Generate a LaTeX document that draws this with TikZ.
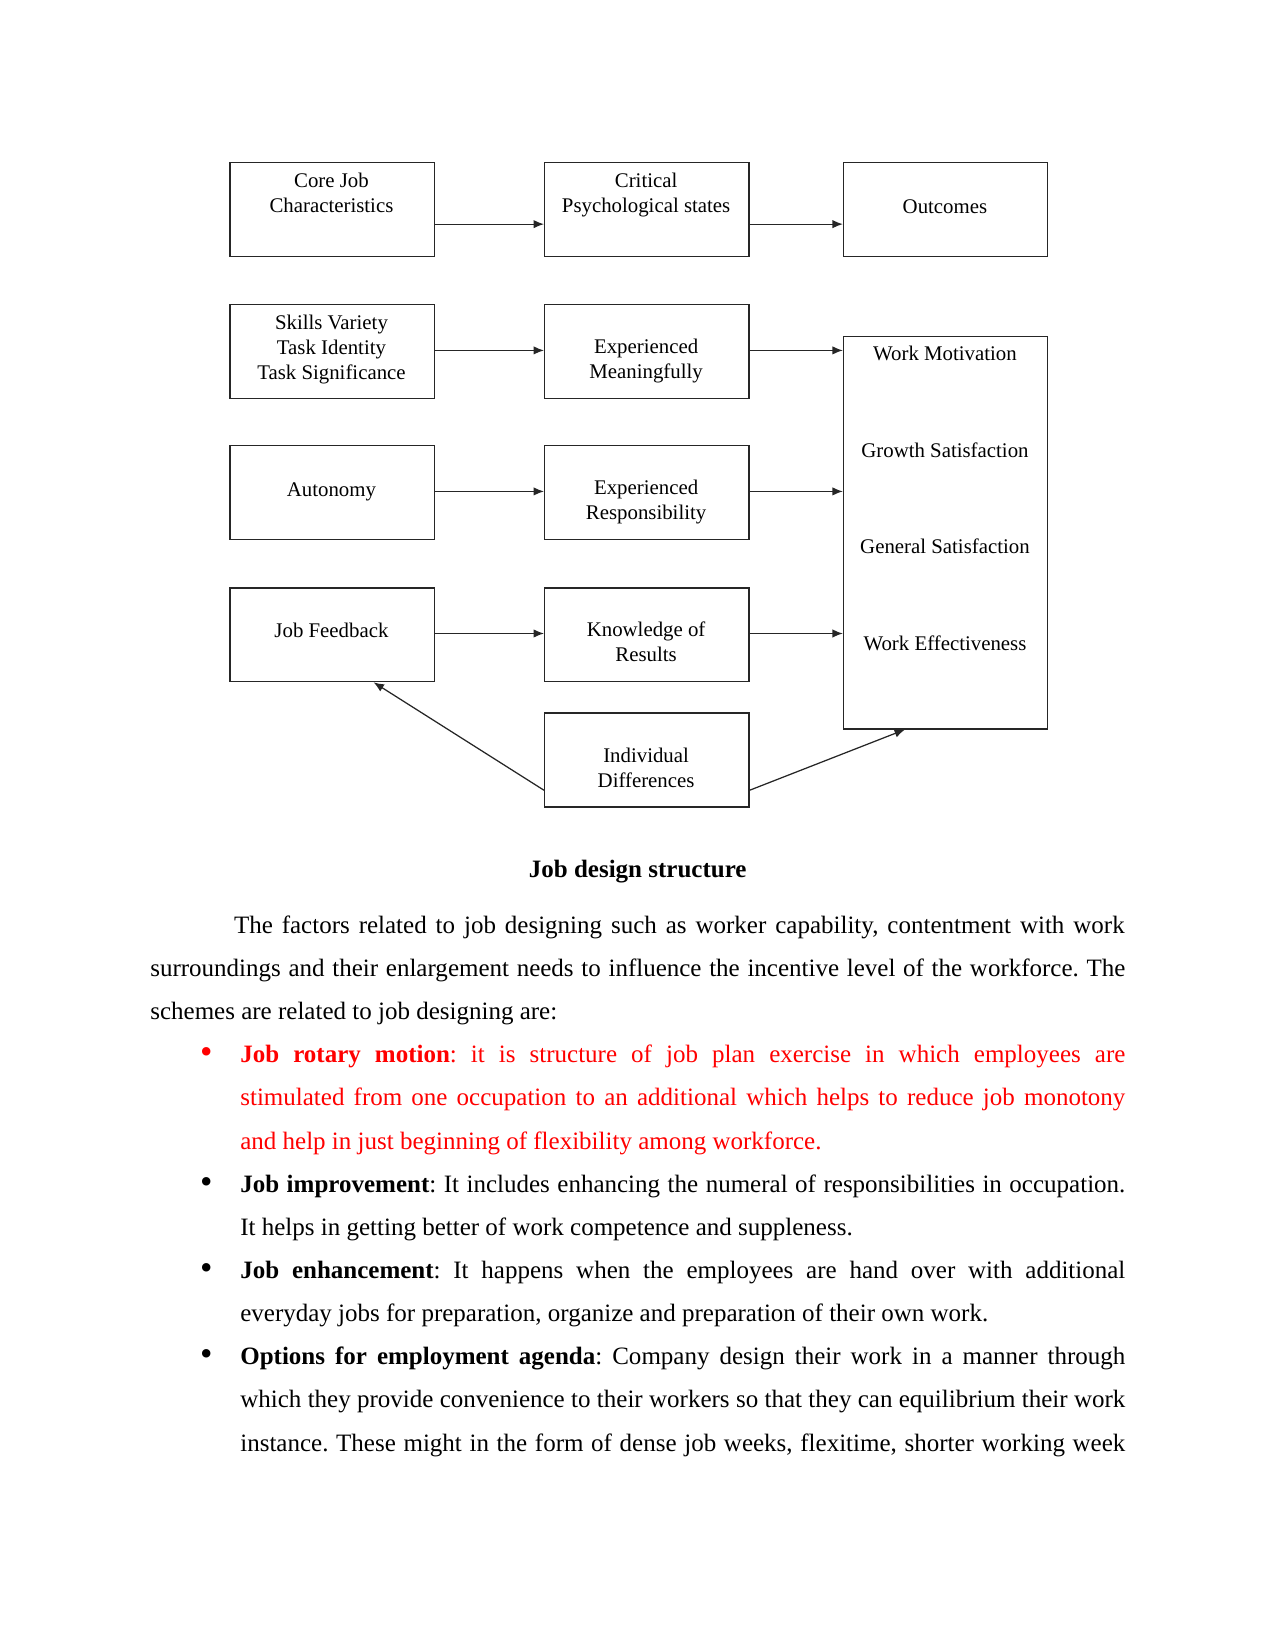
\documentclass[tikz,border=0pt]{standalone}
\usepackage{fontspec}
\setmainfont{Liberation Serif}
\usetikzlibrary{arrows.meta}
\frenchspacing
\begin{document}
\frenchspacing
\begin{tikzpicture}[x=0.5051pt,y=-0.5051pt,
  box/.style={draw=black!85, line width=0.65pt, minimum width=98pt, minimum height=45pt, inner sep=0, anchor=north west},
  lbl/.style={font=\fontsize{10}{12.1}\selectfont, align=center, inner sep=0},
  arr/.style={line width=0.6pt, draw=black!85, -{Latex[length=5pt,width=4pt]}},
  body/.style={font=\fontsize{12}{14}\selectfont\frenchspacing, inner sep=0, anchor=base west},
  bul/.style={font=\fontsize{12}{14}\selectfont, inner sep=0, anchor=base},
  dot/.style={font=\fontsize{17}{18}\selectfont, inner sep=0, anchor=base},
]
\useasboundingbox (0,0) rectangle (1212,1568);
% boxes
\node[box] (core) at (218,154) {};
\node[box] (crit) at (517,154) {};
\node[box] (out) at (801,154) {};
\node[box] (skills) at (218,289) {};
\node[box] (em) at (517,289) {};
\node[box, minimum height=188.4pt] (big) at (801,319) {};
\node[box] (auto) at (218,423) {};
\node[box] (er) at (517,423) {};
\node[box] (jf) at (218,558) {};
\node[box] (kr) at (517,558) {};
\node[box] (id) at (517,677) {};
% labels
\node[lbl] (tcore) at (315,183) {Core Job\\Characteristics};
\node[lbl] (tcrit) at (614,185.5) {Critical\\Psychological states};
\node[lbl] (tout) at (898,196) {Outcomes};
\node[lbl] (tskills) at (315,332) {Skills Variety\\Task Identity\\Task Significance};
\node[lbl] (tem) at (614,343) {Experienced\\Meaningfully};
\node[lbl] (twm) at (898,336) {Work Motivation};
\node[lbl] (tgs) at (898,427.5) {Growth Satisfaction};
\node[lbl] (tgen) at (898,519.5) {General Satisfaction};
\node[lbl] (twe) at (898,611.5) {Work Effectiveness};
\node[lbl] (tauto) at (315,467.5) {Autonomy};
\node[lbl] (ter) at (614,477) {Experienced\\Responsibility};
\node[lbl] (tjf) at (315,599.5) {Job Feedback};
\node[lbl] (tkr) at (614,610) {Knowledge of\\Results};
\node[lbl] (tid) at (614,729.5) {Individual\\Differences};
% connector levels
\coordinate (r1) at (0,213);
\coordinate (r2) at (0,333);
\coordinate (r3) at (0,467);
\coordinate (r4) at (0,602);
\coordinate (r5) at (0,751);
\coordinate (c1) at (355,0);
\coordinate (c2) at (860,0);
\draw[arr] (core.east |- r1) -- (crit.west |- r1);
\draw[arr] (crit.east |- r1) -- (out.west |- r1);
\draw[arr] (skills.east |- r2) -- (em.west |- r2);
\draw[arr] (em.east |- r2) -- (big.west |- r2);
\draw[arr] (auto.east |- r3) -- (er.west |- r3);
\draw[arr] (er.east |- r3) -- (big.west |- r3);
\draw[arr] (jf.east |- r4) -- (kr.west |- r4);
\draw[arr] (kr.east |- r4) -- (big.west |- r4);
\draw[arr] (id.west |- r5) -- (jf.south -| c1);
\draw[arr] (id.east |- r5) -- (big.south -| c2);
% caption
\node[bul, font=\fontsize{12}{14}\selectfont\bfseries] (title) at (606,834) {Job design structure};
% body paragraph
\node[body] (p1) at (222,887) {\makebox[427.5pt][s]{The factors related to job designing such as worker capability, contentment with work}};
\node[body] (p2) at (142.5,928) {\makebox[468pt][s]{surroundings and their enlargement needs to influence the incentive level of the workforce. The}};
\node[body] (p3) at (142.5,969) {schemes are related to job designing are:};
% bullet 1 (red)
\node[dot, text=red] (b1) at (196,1011) {\textbullet};
\node[body, text=red] (l11) at (228,1010) {\makebox[424.8pt][s]{\textbf{Job rotary motion}: it is structure of job plan exercise in which employees are}};
\node[body, text=red] (l12) at (228,1051) {\makebox[424.8pt][s]{stimulated from one occupation to an additional which helps to reduce job monotony}};
\node[body, text=red] (l13) at (228,1092) {and help in just beginning of flexibility among workforce.};
% bullet 2
\node[dot] (b2) at (196,1134) {\textbullet};
\node[body] (l21) at (228,1133) {\makebox[424.8pt][s]{\textbf{Job improvement}: It includes enhancing the numeral of responsibilities in occupation.}};
\node[body] (l22) at (228,1174) {It helps in getting better of work competence and suppleness.};
% bullet 3
\node[dot] (b3) at (196,1216) {\textbullet};
\node[body] (l31) at (228,1215) {\makebox[424.8pt][s]{\textbf{Job enhancement}: It happens when the employees are hand over with additional}};
\node[body] (l32) at (228,1256) {everyday jobs for preparation, organize and preparation of their own work.};
% bullet 4
\node[dot] (b4) at (196,1298) {\textbullet};
\node[body] (l41) at (228,1297) {\makebox[424.8pt][s]{\textbf{Options for employment agenda}: Company design their work in a manner through}};
\node[body] (l42) at (228,1338) {\makebox[424.8pt][s]{which they provide convenience to their workers so that they can equilibrium their work}};
\node[body] (l43) at (228,1379) {\makebox[424.8pt][s]{instance. These might in the form of dense job weeks, flexitime, shorter working week}};
\end{tikzpicture}
\end{document}
